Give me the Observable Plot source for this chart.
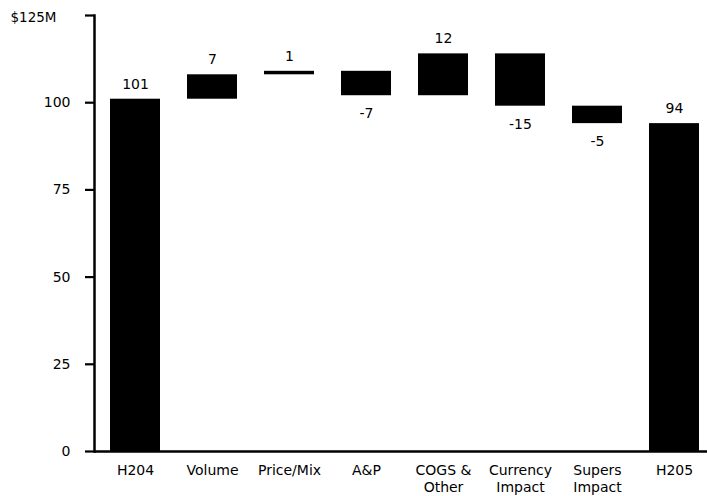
<!DOCTYPE html>
<html>
<head>
<meta charset="utf-8">
<script src="https://cdn.jsdelivr.net/npm/d3@7"></script>
<script src="https://cdn.jsdelivr.net/npm/@observablehq/plot@0.6"></script>
<style>
  html, body { margin: 0; padding: 0; background: #fff; }
  #chart svg { display: block; font-family: "DejaVu Sans", Verdana, sans-serif; }
</style>
</head>
<body>
<div id="chart"></div>
<script>
const categories = ["H204", "Volume", "Price/Mix", "A&P", "COGS &\nOther", "Currency\nImpact", "Supers\nImpact", "H205"];
const values = [101, 7, 1, -7, 12, -15, -5, 94];
const kinds = ["total", "delta", "delta", "delta", "delta", "delta", "delta", "total"];
const yTicks = [0, 25, 50, 75, 100, 125];
const yTickLabels = ["0", "25", "50", "75", "100", ""];
const unitLabel = "$125M";

let running = 0;
const rows = categories.map((c, i) => {
  let y1, y2;
  if (kinds[i] === "total") { y1 = 0; y2 = values[i]; running = values[i]; }
  else { y1 = running; y2 = running + values[i]; running = y2; }
  return {cat: c, y1, y2, value: values[i], top: Math.max(y1, y2), bottom: Math.min(y1, y2)};
});

const chart = Plot.plot({
  width: 707,
  height: 496,
  marginLeft: 94,
  marginRight: 0,
  marginTop: 15,
  marginBottom: 45,
  style: {fontFamily: "DejaVu Sans, Verdana, sans-serif", fontSize: "14px", color: "#000", background: "#fff"},
  x: {domain: categories, paddingInner: 0.354, paddingOuter: 0, insetLeft: 14, insetRight: 7, label: null},
  y: {domain: [0, 125], label: null},
  marks: [
    Plot.barY(rows, {x: "cat", y1: "y1", y2: "y2", fill: "#000"}),
    Plot.text(rows.filter(d => d.value >= 0), {x: "cat", y: "top", text: d => String(d.value), dy: -15, fontSize: 14}),
    Plot.text(rows.filter(d => d.value < 0), {x: "cat", y: "bottom", text: d => String(d.value), dy: 18, fontSize: 14}),
    Plot.axisY({ticks: yTicks, tickFormat: (d) => yTickLabels[yTicks.indexOf(d)], tickSize: 9, tickPadding: 15, strokeWidth: 2.2, fontSize: 14, label: null}),
    Plot.text([unitLabel], {frameAnchor: "left", y: () => 125, text: d => d, textAnchor: "start", dx: -84, dy: 2, fontSize: 13.5}),
    Plot.frame({anchor: "left", strokeWidth: 2.5}),
    Plot.ruleY([0], {strokeWidth: 2.5}),
    Plot.axisX({tickSize: 0, tickPadding: 12, lineHeight: 1.2, fontSize: 14, label: null})
  ]
});
document.getElementById("chart").appendChild(chart);
</script>
</body>
</html>
